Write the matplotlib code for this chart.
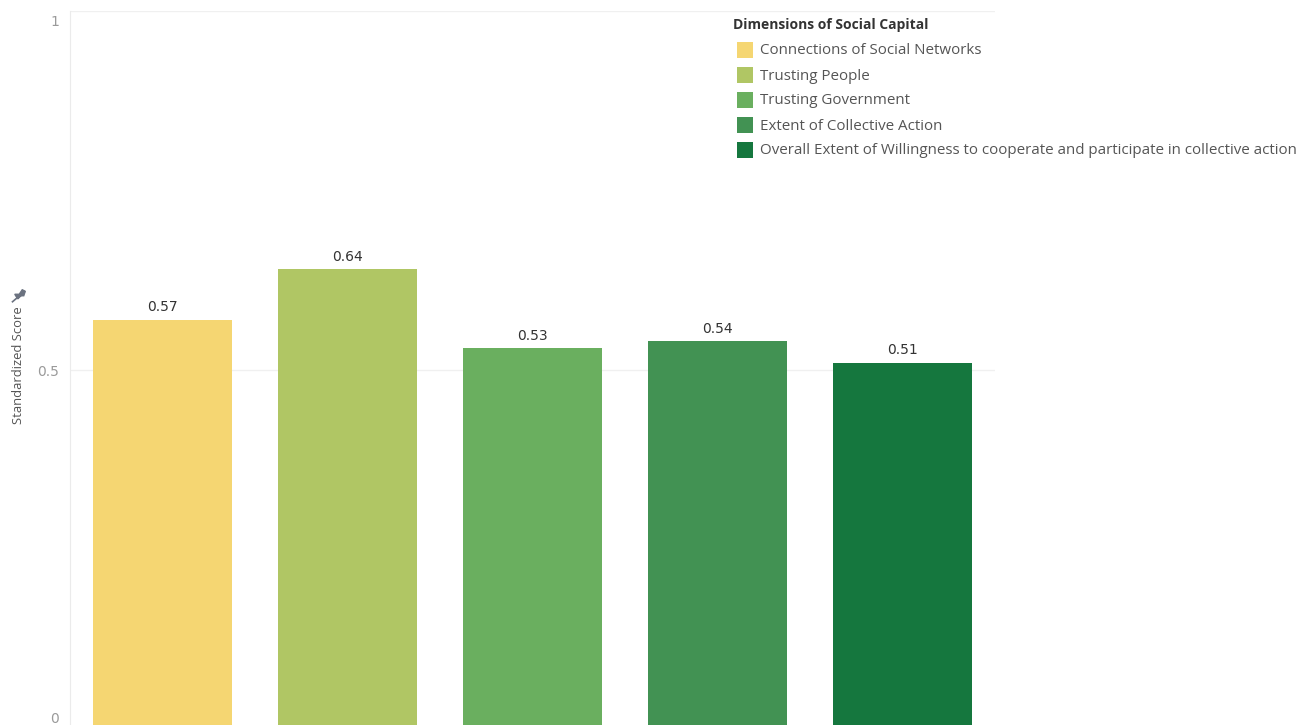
import matplotlib.pyplot as plt
import matplotlib.transforms as mtransforms
from matplotlib.patches import Rectangle

# Standardized scores for each dimension of social capital
dimensions = [
    'Connections of Social Networks',
    'Trusting People',
    'Trusting Government',
    'Extent of Collective Action',
    'Overall Extent of Willingness to cooperate and participate in collective action',
]
scores = [0.57, 0.64, 0.53, 0.54, 0.51]
colors = ['#F5D672', '#B0C664', '#6AAF5F', '#429253', '#15773E']
y_ticks = [0, 0.5, 1]
y_tick_labels = ['0', '0.5', '1']

plt.rcParams['font.family'] = ['Open Sans', 'DejaVu Sans']

W, H = 1304, 725
fig = plt.figure(figsize=(W / 100, H / 100), dpi=100)
# plot area runs from 1.0 at the top to 0 just below the bottom edge
ax = fig.add_axes([70 / W, (H - 729) / H, 925 / W, 718 / H])

x = range(len(scores))
ax.bar(x, scores, width=0.75, color=colors, zorder=2)
for xi, s in zip(x, scores):
    ax.annotate(f'{s:.2f}', (xi, s), xytext=(0, 4), textcoords='offset points',
                ha='center', va='bottom', fontsize=10, color='#333333',
                family='DejaVu Sans')

ax.set_xlim(-0.5, len(scores) - 0.5)
ax.set_ylim(0, 1)
ax.set_xticks([])
ax.set_yticks(y_ticks)
ax.set_yticklabels(y_tick_labels, family='DejaVu Sans')
ax.tick_params(axis='y', length=0, pad=8, labelsize=10, labelcolor='#9a9a9a')
ax.grid(axis='y', color='#f0f0f0', linewidth=1, zorder=0)
for side in ['top', 'right', 'bottom']:
    ax.spines[side].set_visible(False)
ax.spines['left'].set_color('#ebebeb')

# keep the end labels inside the pane
ticks = ax.yaxis.get_major_ticks()
ticks[0].label1.set_transform(ticks[0].label1.get_transform()
                              + mtransforms.ScaledTranslation(0, 8 / 72, fig.dpi_scale_trans))
ticks[-1].label1.set_transform(ticks[-1].label1.get_transform()
                               + mtransforms.ScaledTranslation(0, -7 / 72, fig.dpi_scale_trans))

fig.text(19 / W, 1 - 365 / H, 'Standardized Score', rotation=90, ha='center', va='center',
         fontsize=9.4, color='#555555')

# small pin glyph above the axis title
pin = fig.add_axes([11 / W, 1 - 304 / H, 15 / W, 15 / H])
pin.axis('off')
pin.set_xlim(0, 1)
pin.set_ylim(0, 1)
pin.fill([0.45, 0.95, 0.75, 0.55, 0.25], [0.35, 0.85, 0.95, 0.65, 0.65], color='#6b7280')
pin.fill([0.45, 0.95, 0.85, 0.35], [0.35, 0.85, 0.55, 0.55], color='#6b7280')
pin.plot([0.1, 0.45], [0.15, 0.45], color='#6b7280', lw=1.2)

# legend
fig.text(733 / W, 1 - 25.5 / H, 'Dimensions of Social Capital', ha='left', va='center',
         fontsize=10, fontweight='bold', color='#333333')
for i, (name, c) in enumerate(zip(dimensions, colors)):
    yc = 49.5 + 25 * i
    fig.patches.append(Rectangle((737 / W, 1 - (yc + 8) / H), 16 / W, 16 / H,
                                 transform=fig.transFigure, facecolor=c, edgecolor='none'))
    fig.text(760 / W, 1 - (yc + 1.5) / H, name, ha='left', va='center', fontsize=10.9,
             color='#555555')

fig.savefig('out.png', dpi=100)
